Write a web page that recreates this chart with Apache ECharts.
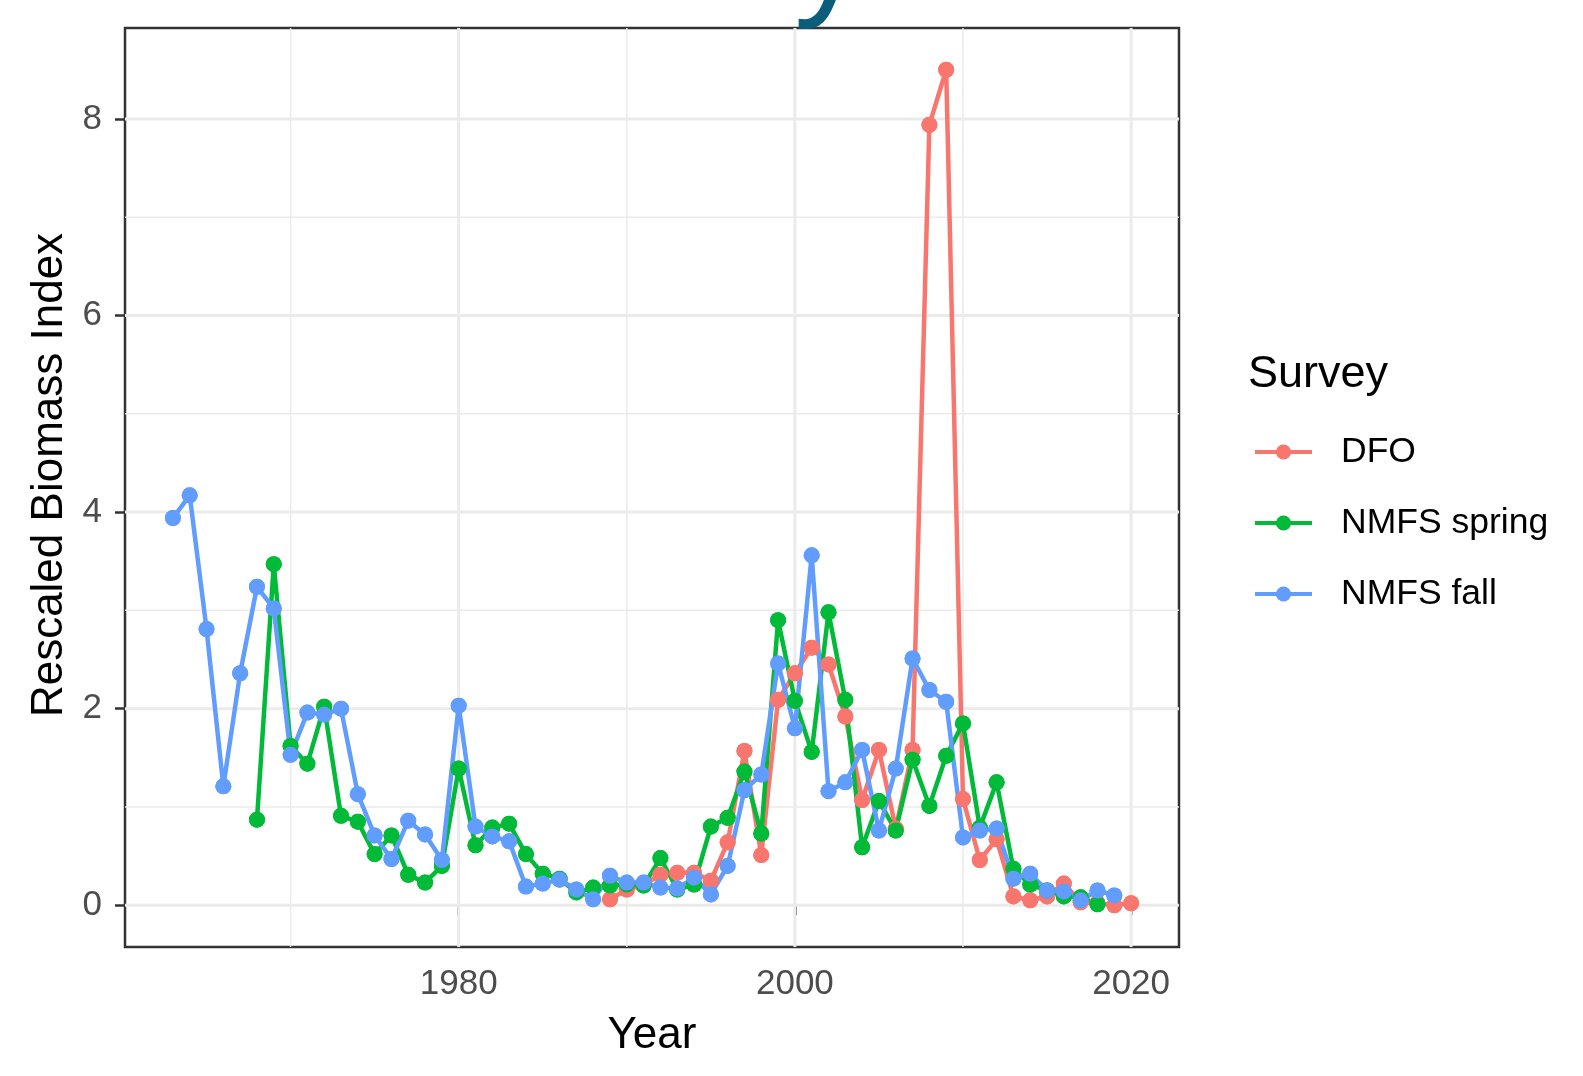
<!DOCTYPE html>
<html><head><meta charset="utf-8">
<script src="https://cdn.jsdelivr.net/npm/echarts@6/dist/echarts.min.js"></script>
<style>html,body{margin:0;padding:0;background:#fff;}#c{width:1583px;height:1076px;}</style>
</head><body><div id="c"></div>
<script>
// ---- data ----
const dfoYears = [1989,1990,1991,1992,1993,1994,1995,1996,1997,1998,1999,2000,2001,2002,2003,2004,2005,2006,2007,2008,2009,2010,2011,2012,2013,2014,2015,2016,2017,2018,2019,2020];
const dfoValues = [0.06,0.16,0.21,0.31,0.33,0.33,0.25,0.64,1.57,0.51,2.09,2.36,2.62,2.45,1.92,1.07,1.58,0.78,1.58,7.94,8.50,1.08,0.46,0.67,0.09,0.05,0.09,0.22,0.03,0.02,0.00,0.02];

const springYears = [1968,1969,1970,1971,1972,1973,1974,1975,1976,1977,1978,1979,1980,1981,1982,1983,1984,1985,1986,1987,1988,1989,1990,1991,1992,1993,1994,1995,1996,1997,1998,1999,2000,2001,2002,2003,2004,2005,2006,2007,2008,2009,2010,2011,2012,2013,2014,2015,2016,2017,2018];
const springValues = [0.87,3.47,1.62,1.44,2.02,0.91,0.85,0.52,0.71,0.31,0.23,0.40,1.39,0.61,0.79,0.83,0.52,0.32,0.27,0.13,0.18,0.20,0.21,0.20,0.48,0.16,0.21,0.80,0.89,1.36,0.73,2.90,2.08,1.56,2.98,2.09,0.59,1.06,0.76,1.48,1.01,1.52,1.85,0.79,1.25,0.37,0.21,0.15,0.09,0.08,0.01];

const fallYears = [1963,1964,1965,1966,1967,1968,1969,1970,1971,1972,1973,1974,1975,1976,1977,1978,1979,1980,1981,1982,1983,1984,1985,1986,1987,1988,1989,1990,1991,1992,1993,1994,1995,1996,1997,1998,1999,2000,2001,2002,2003,2004,2005,2006,2007,2008,2009,2010,2011,2012,2013,2014,2015,2016,2017,2018,2019];
const fallValues = [3.94,4.17,2.81,1.21,2.36,3.24,3.02,1.53,1.96,1.94,2.00,1.13,0.71,0.47,0.86,0.72,0.46,2.03,0.80,0.70,0.65,0.19,0.22,0.26,0.16,0.06,0.30,0.23,0.23,0.18,0.17,0.28,0.11,0.40,1.17,1.33,2.46,1.80,3.56,1.16,1.25,1.58,0.76,1.39,2.51,2.19,2.07,0.69,0.76,0.78,0.27,0.32,0.15,0.14,0.05,0.15,0.10];

const seriesNames = ['DFO', 'NMFS spring', 'NMFS fall'];
const seriesColors = ['#F8766D', '#00BA38', '#619CFF'];
const xTickValues = [1980, 2000, 2020];
const xMinorValues = [1970, 1990, 2010];
const yTickValues = [0, 2, 4, 6, 8];
const yMinorValues = [1, 3, 5, 7];
const xTitle = 'Year';
const yTitle = 'Rescaled Biomass Index';
const legendTitle = 'Survey';

// ---- chart ----
const FONT = 'Liberation Sans, Arial, sans-serif';
const xMin = 1960.15, xMax = 2022.85, yMin = -0.425, yMax = 8.925;

function pairs(xs, ys) { return xs.map((x, i) => [x, ys[i]]); }
const allData = [pairs(dfoYears, dfoValues), pairs(springYears, springValues), pairs(fallYears, fallValues)];

const gridData = [];
xTickValues.forEach(v => gridData.push([v, 1, 3]));
xMinorValues.forEach(v => gridData.push([v, 1, 1.5]));
yTickValues.forEach(v => gridData.push([v, 0, 3]));
yMinorValues.forEach(v => gridData.push([v, 0, 1.5]));

const series = [{
  type: 'custom', name: '_grid', z: 1, silent: true, animation: false,
  data: gridData,
  encode: { x: 0 },
  renderItem: function (params, api) {
    const v = api.value(0), isX = api.value(1) === 1, w = api.value(2);
    let p1, p2;
    if (isX) { p1 = api.coord([v, yMin]); p2 = api.coord([v, yMax]); }
    else { p1 = api.coord([xMin, v]); p2 = api.coord([xMax, v]); }
    return { type: 'line', shape: { x1: p1[0], y1: p1[1], x2: p2[0], y2: p2[1] },
             style: { stroke: '#EBEBEB', lineWidth: w }, silent: true };
  }
}];
seriesNames.forEach((n, i) => {
  series.push({
    type: 'line', name: n, data: allData[i], z: 2, animation: false,
    symbol: 'circle', symbolSize: 16, showSymbol: true,
    lineStyle: { width: 4.5, color: seriesColors[i] },
    itemStyle: { color: seriesColors[i] },
    emphasis: { disabled: true }
  });
});
seriesNames.forEach((n, i) => {
  series.push({
    type: 'scatter', name: n, data: allData[i], z: 3, animation: false,
    symbol: 'circle', symbolSize: 16,
    itemStyle: { color: seriesColors[i], opacity: 1 },
    emphasis: { disabled: true }
  });
});

const chart = echarts.init(document.getElementById('c'), null, { renderer: 'canvas' });
chart.setOption({
  backgroundColor: '#ffffff',
  animation: false,
  grid: { left: 125, right: 404, top: 28, bottom: 129, show: true, borderColor: '#333333', borderWidth: 2.5, backgroundColor: 'transparent', containLabel: false },
  xAxis: {
    type: 'value', min: xMin, max: xMax,
    name: xTitle, nameLocation: 'middle', nameGap: 67,
    nameTextStyle: { fontFamily: FONT, fontSize: 44, color: '#000000' },
    axisLine: { show: false },
    splitLine: { show: false },
    axisTick: { show: true, length: 10, customValues: xTickValues, lineStyle: { color: '#333333', width: 2.5 } },
    axisLabel: { show: true, customValues: xTickValues, margin: 20, fontFamily: FONT, fontSize: 35, color: '#4D4D4D',
                 formatter: function (v) { return String(Math.round(v)); } }
  },
  yAxis: {
    type: 'value', min: yMin, max: yMax,
    axisLine: { show: false },
    splitLine: { show: false },
    axisTick: { show: true, length: 10, customValues: yTickValues, lineStyle: { color: '#333333', width: 2.5 } },
    axisLabel: { show: true, customValues: yTickValues, margin: 23, fontFamily: FONT, fontSize: 35, color: '#4D4D4D',
                 formatter: function (v) { return String(Math.round(v)); } }
  },
  legend: {
    data: seriesNames, orient: 'vertical', left: 1253, top: 432, padding: 0,
    itemWidth: 57, itemHeight: 19, itemGap: 31,
    lineStyle: { width: 4 },
    textStyle: { fontFamily: FONT, fontSize: 35.5, color: '#000000', lineHeight: 40, padding: [0, 0, 0, 24] },
    selectedMode: false
  },
  graphic: [
    { type: 'text', left: 1248, top: 352, style: { text: legendTitle, font: '45px ' + FONT, fill: '#000000' } },
    { type: 'text', x: 50, y: 475, rotation: Math.PI / 2,
      style: { text: yTitle, font: '44px ' + FONT, fill: '#000000', align: 'center', verticalAlign: 'middle' } },
    { type: 'text', x: 794, y: -40, style: { text: 'y', font: '143px ' + FONT, fill: '#0B5E7B', verticalAlign: 'middle' } }
  ],
  series: series
});
</script></body></html>
